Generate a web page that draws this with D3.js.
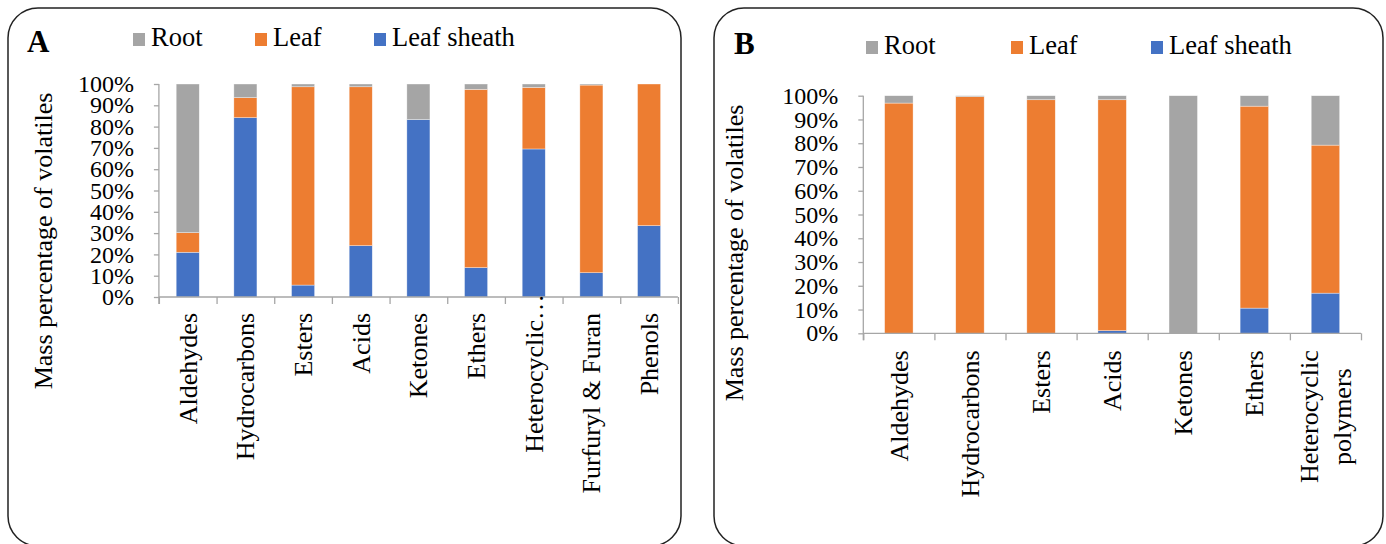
<!DOCTYPE html>
<html><head><meta charset="utf-8">
<script src="https://cdn.jsdelivr.net/npm/d3@7"></script>
<style>
html,body{margin:0;padding:0;background:#fff;}
svg{display:block;}
text{font-family:"Liberation Serif","Times New Roman",serif;fill:#000;}
</style></head>
<body>
<svg id="chart" width="1386" height="544"></svg>
<script>
// ---------- data ----------
const seriesNames = ["Root", "Leaf", "Leaf sheath"];
const seriesColors = ["#A5A5A5", "#ED7D31", "#4472C4"];
const yTicks = [0, 10, 20, 30, 40, 50, 60, 70, 80, 90, 100];

const catsA = ["Aldehydes", "Hydrocarbons", "Esters", "Acids", "Ketones", "Ethers", "Heterocyclic…", "Furfuryl & Furan", "Phenols"];
const sheathA = [21.0, 84.2, 5.6, 24.1, 83.3, 13.8, 69.5, 11.4, 33.5];
const leafA   = [9.2, 9.4, 93.1, 74.6, 0.0, 83.7, 28.9, 88.1, 66.5];
const rootA   = [69.8, 6.4, 1.3, 1.3, 16.7, 2.5, 1.6, 0.5, 0.0];

const catsB = ["Aldehydes", "Hydrocarbons", "Esters", "Acids", "Ketones", "Ethers", "Heterocyclic\npolymers"];
const sheathB = [0.0, 0.0, 0.0, 1.1, 0.0, 10.6, 16.9];
const leafB   = [96.9, 99.6, 98.3, 97.2, 0.0, 85.0, 62.3];
const rootB   = [3.1, 0.4, 1.7, 1.7, 100.0, 4.4, 20.8];

const svg = d3.select("#chart");
const AXIS = "#a6a6a6";

function textLen(g, s, size) {
  const t = g.append("text").attr("font-size", size).text(s);
  const w = t.node().getComputedTextLength(); t.remove(); return w;
}

function panel(cfg) {
  const g = svg.append("g");
  // frame
  g.append("rect").attr("x", cfg.frame[0]).attr("y", cfg.frame[1])
    .attr("width", cfg.frame[2]).attr("height", cfg.frame[3])
    .attr("rx", 30).attr("ry", 30)
    .attr("fill", "none").attr("stroke", "#222").attr("stroke-width", 1.5);

  // panel letter
  g.append("text").attr("x", cfg.letterPos[0]).attr("y", cfg.letterPos[1])
    .attr("font-size", 31).attr("font-weight", "bold").text(cfg.letter);

  // legend
  [0, 1, 2].forEach((si, i) => {
    const lx = cfg.legendX[i];
    g.append("rect").attr("x", lx).attr("y", cfg.legendY - 13)
      .attr("width", 12).attr("height", 13).attr("fill", seriesColors[si]);
    g.append("text").attr("x", lx + 18).attr("y", cfg.legendY)
      .attr("font-size", 26.5).text(seriesNames[si]);
  });

  const x = d3.scaleBand().domain(cfg.cats).range([cfg.x0, cfg.x1])
    .paddingInner(0.6).paddingOuter(0.3);
  const xEdges = d3.scaleLinear().domain([0, cfg.cats.length]).range([cfg.x0, cfg.x1]);
  const y = d3.scaleLinear().domain([0, 100]).range([cfg.yBot, cfg.yTop]);

  const rows = cfg.cats.map((c, i) => ({cat: c, sheath: cfg.sheath[i], leaf: cfg.leaf[i], root: cfg.root[i]}));
  const layers = d3.stack().keys(["sheath", "leaf", "root"])(rows);
  const colorByKey = {sheath: seriesColors[2], leaf: seriesColors[1], root: seriesColors[0]};

  // y axis
  const yAxis = d3.axisLeft(y).tickValues(yTicks).tickSize(5).tickSizeOuter(0)
    .tickPadding(20).tickFormat(d => d + "%");
  const ya = g.append("g").attr("transform", `translate(${cfg.x0},0)`).call(yAxis);
  ya.select(".domain").remove();
  ya.selectAll("line").attr("stroke", AXIS).attr("stroke-width", 1.3);
  ya.selectAll("text").attr("font-size", 24).attr("font-family", "Liberation Serif").attr("fill", "#000");

  // x axis ticks at category boundaries
  const xAxis = d3.axisBottom(xEdges).tickValues(d3.range(cfg.cats.length + 1))
    .tickSize(7).tickSizeOuter(0).tickFormat("");
  const xa = g.append("g").attr("transform", `translate(0,${cfg.yBot})`).call(xAxis);
  xa.select(".domain").remove();
  xa.selectAll("line").attr("stroke", AXIS).attr("stroke-width", 1.3);

  g.append("line").attr("x1", cfg.x0).attr("x2", cfg.x0)
    .attr("y1", cfg.yTop).attr("y2", cfg.yBot + 7)
    .attr("stroke", AXIS).attr("stroke-width", 1.3);

  // bars
  layers.forEach(layer => {
    g.append("g").selectAll("rect").data(layer).join("rect")
      .attr("x", d => x(d.data.cat))
      .attr("width", x.bandwidth())
      .attr("y", d => y(d[1]))
      .attr("height", d => Math.max(0, y(d[0]) - y(d[1])))
      .attr("fill", colorByKey[layer.key])
      .attr("stroke", "#fff").attr("stroke-opacity", 0.6).attr("stroke-width", 0.6);
  });

  g.append("line").attr("x1", cfg.x0).attr("x2", cfg.x1)
    .attr("y1", cfg.yBot).attr("y2", cfg.yBot)
    .attr("stroke", AXIS).attr("stroke-width", 1.3);

  // category labels (rotated, end at top)
  const labelTop = cfg.yBot + cfg.labelGap;
  cfg.cats.forEach(c => {
    const lines = c.split("\n");
    const cx = x(c) + x.bandwidth() / 2;
    const lh = 33;
    const L = d3.max(lines, l => textLen(g, l, 26));
    let centerY = labelTop + L / 2;
    if (c.endsWith("…")) centerY -= textLen(g, "…", 26) - 7;
    const t = g.append("text").attr("font-size", 26)
      .attr("transform", `translate(${cx},${centerY}) rotate(-90)`)
      .attr("text-anchor", "middle");
    lines.forEach((l, i) => {
      const off = (i - (lines.length - 1) / 2) * lh;
      t.append("tspan").attr("x", 0).attr("y", off + 9).text(l);
    });
  });

  // y title
  g.append("text").attr("font-size", 26).attr("text-anchor", "middle")
    .attr("transform", `translate(${cfg.yTitle[0]},${cfg.yTitle[1]}) rotate(-90)`)
    .text("Mass percentage of volatiles");
}

panel({
  frame: [8, 8, 673, 538], letter: "A", letterPos: [27, 52],
  legendX: [133, 255, 374], legendY: 46,
  cats: catsA, sheath: sheathA, leaf: leafA, root: rootA,
  x0: 158.9, x1: 677.9, yTop: 84, yBot: 297, labelGap: 16,
  yTitle: [52, 241]
});
panel({
  frame: [714, 8, 669, 538], letter: "B", letterPos: [734, 54],
  legendX: [866, 1011, 1151], legendY: 54,
  cats: catsB, sheath: sheathB, leaf: leafB, root: rootB,
  x0: 863.3, x1: 1361, yTop: 95.7, yBot: 333.3, labelGap: 17,
  yTitle: [743, 253]
});
</script>
</body></html>
